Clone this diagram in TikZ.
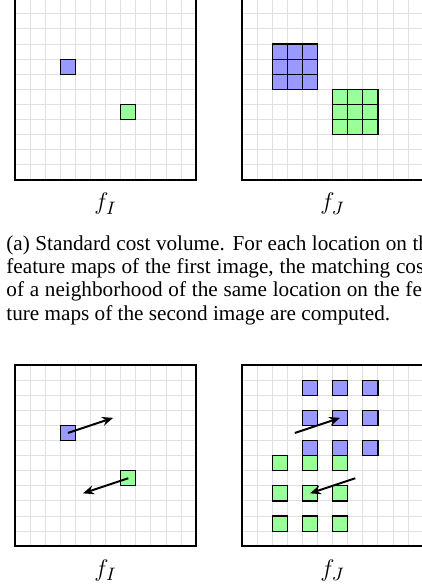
\documentclass[tikz,border=0pt]{standalone}
\usepackage{fontspec}
\setmainfont{Liberation Serif}
\usetikzlibrary{arrows.meta}
\newcommand\featgrid{%
  \foreach \i in {1,...,11} {%
    \draw[gridline] (\i,0) -- (\i,12);
    \draw[gridline] (0,\i) -- (12,\i);
  }%
  \draw[frame] (0,0) rectangle (12,12);
}
\newcommand\fullline[1]{\makebox[216pt][s]{#1}}
\begin{document}
\begin{tikzpicture}[x=0.5pt,y=-0.5pt,
  gridline/.style={draw=black!12, line width=0.5pt},
  frame/.style={draw=black, line width=1.1pt},
  cellbox/.style={draw=black, line width=0.6pt, minimum size=7.55pt, inner sep=0pt, outer sep=0pt},
  bluecell/.style={cellbox, fill=blue!40},
  greencell/.style={cellbox, fill=green!40},
  flow/.style={line width=1pt, -{Stealth[length=5.5pt,width=4.5pt]}},
  captext/.style={anchor=base west, inner sep=0pt, font=\fontsize{10.6}{11.75}\selectfont},
  flabel/.style={anchor=base, inner sep=0pt, font=\fontsize{12.4}{14}\selectfont},
  gridunit/.style={x=7.55pt, y=-7.55pt}
]
\useasboundingbox (0,0) rectangle (422,588);

% ---- (a) top-left: f_I
\begin{scope}[shift={(7.5pt,0.6pt)}, gridunit]
  \featgrid
  \node[bluecell] (tlb) at (3.5,4.5) {};
  \node[greencell] (tlg) at (7.5,7.5) {};
\end{scope}

% ---- (a) top-right: f_J
\begin{scope}[shift={(121pt,0.6pt)}, gridunit]
  \featgrid
  \foreach \c in {2,3,4} \foreach \r in {3,4,5}
    \node[bluecell] (trb\c\r) at (\c+0.5,\r+0.5) {};
  \foreach \c in {6,7,8} \foreach \r in {6,7,8}
    \node[greencell] (trg\c\r) at (\c+0.5,\r+0.5) {};
\end{scope}

\node[flabel] (fIa) at (105.5,210) {$f_I$};
\node[flabel] (fJa) at (332.5,210) {$f_J$};

% ---- caption
\node[captext] (cap1) at (6,250.2) {\fullline{(a) Standard cost volume. For each location on the}};
\node[captext] (cap2) at (6,273.5) {\fullline{feature maps of the first image, the matching costs}};
\node[captext] (cap3) at (6,296.8) {\fullline{of a neighborhood of the same location on the fea-}};
\node[captext] (cap4) at (6,320.2) {ture maps of the second image are computed.};

% ---- (b) bottom-left: f_I
\begin{scope}[shift={(7.5pt,-182.5pt)}, gridunit]
  \featgrid
  \node[bluecell] (blb) at (3.5,4.5) {};
  \node[greencell] (blg) at (7.5,7.5) {};
  \coordinate (blbend) at (6.5,3.5);
  \coordinate (blgend) at (4.5,8.5);
  \draw[flow] (blb.center) -- (blbend);
  \draw[flow] (blg.center) -- (blgend);
\end{scope}

% ---- (b) bottom-right: f_J
\begin{scope}[shift={(121pt,-182.5pt)}, gridunit]
  \featgrid
  \foreach \c in {4,6,8} \foreach \r in {1,3,5}
    \node[bluecell] (brb\c\r) at (\c+0.5,\r+0.5) {};
  \foreach \c in {2,4,6} \foreach \r in {6,8,10}
    \node[greencell] (brg\c\r) at (\c+0.5,\r+0.5) {};
  \coordinate (brbstart) at (3.5,4.5);
  \coordinate (brgstart) at (7.5,7.5);
  \draw[flow] (brbstart) -- (brb63.center);
  \draw[flow] (brgstart) -- (brg48.center);
\end{scope}

\node[flabel] (fIb) at (105.5,576.5) {$f_I$};
\node[flabel] (fJb) at (332.5,576.5) {$f_J$};
\end{tikzpicture}
\end{document}
